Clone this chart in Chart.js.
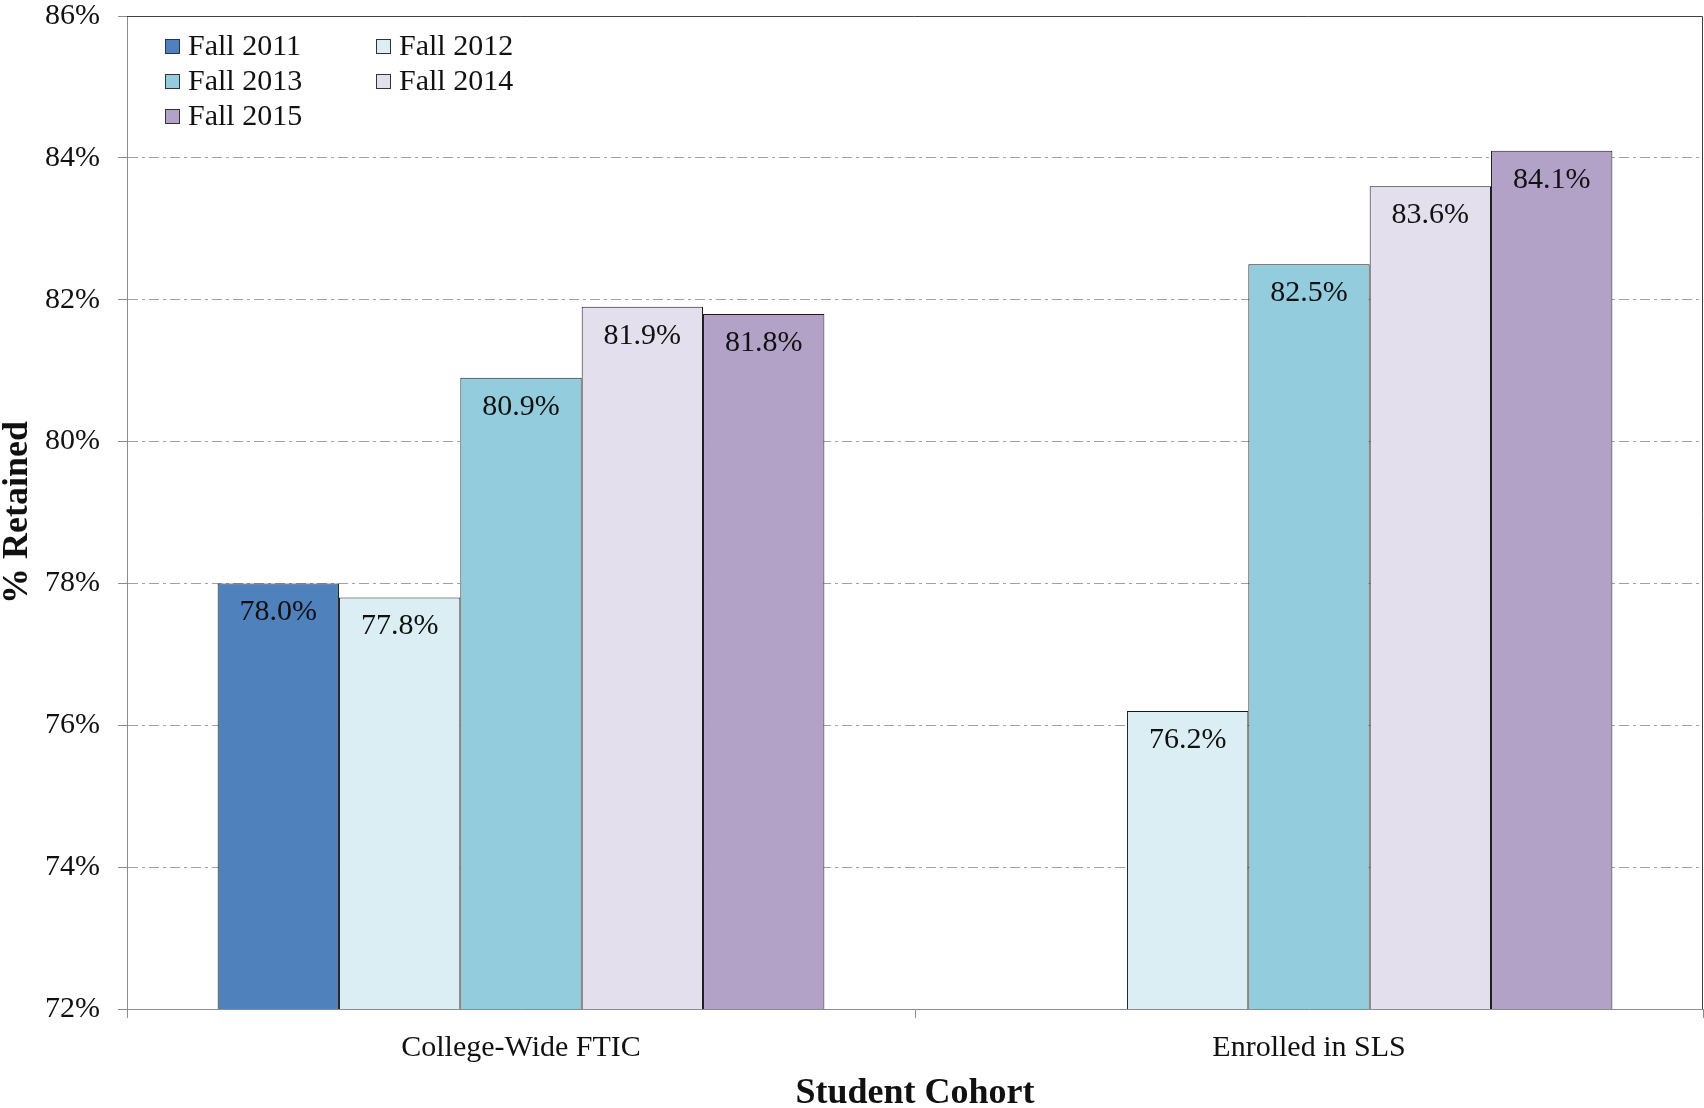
<!DOCTYPE html>
<html>
<head>
    <meta charset="UTF-8">
    <title>% Retained by Student Cohort</title>
    <script src="https://cdn.jsdelivr.net/npm/chart.js"></script>
    <style>
        body { margin: 0; background: #fff; }
    </style>
</head>
<body>
<canvas id="chart" width="1704" height="1108"></canvas>

<script>
    // data
    var cohorts = ['College-Wide FTIC', 'Enrolled in SLS'];
    var terms = ['Fall 2011', 'Fall 2012', 'Fall 2013', 'Fall 2014', 'Fall 2015'];
    var fall2011 = [78.0, null];
    var fall2012 = [77.8, 76.2];
    var fall2013 = [80.9, 82.5];
    var fall2014 = [81.9, 83.6];
    var fall2015 = [81.8, 84.1];
    var yTicks = [72, 74, 76, 78, 80, 82, 84, 86];

    var colors = ['#4F81BD', '#DBEEF4', '#93CDDD', '#E4DFEC', '#B2A2C7'];
    var values = [fall2011, fall2012, fall2013, fall2014, fall2015];
    var serif = '"Liberation Serif", "Times New Roman", serif';

    var datasets = [];
    for (var i = 0; i < terms.length; i++) {
        datasets.push({
            label: terms[i],
            data: values[i],
            backgroundColor: colors[i],
            borderColor: '#1a1a1a',
            borderWidth: 1,
            borderSkipped: 'bottom'
        });
    }

    // value labels just inside the top of each bar
    var barLabels = {
        id: 'barLabels',
        afterDatasetsDraw: function (chart) {
            var ctx = chart.ctx;
            ctx.save();
            ctx.font = '30px ' + serif;
            ctx.fillStyle = '#111';
            ctx.textAlign = 'center';
            ctx.textBaseline = 'middle';
            chart.data.datasets.forEach(function (ds, di) {
                var meta = chart.getDatasetMeta(di);
                meta.data.forEach(function (bar, j) {
                    if (ds.data[j] == null) return;
                    ctx.fillText(ds.data[j].toFixed(1) + '%', bar.x, bar.y + 29);
                });
            });
            ctx.restore();
        }
    };

    // frame on top and right, legend in the upper left of the plot
    var frameAndLegend = {
        id: 'frameAndLegend',
        afterDraw: function (chart) {
            var ctx = chart.ctx;
            var a = chart.chartArea;
            ctx.save();
            ctx.strokeStyle = '#404040';
            ctx.lineWidth = 1;
            ctx.beginPath();
            ctx.moveTo(a.left, a.top + 0.5);
            ctx.lineTo(a.right - 0.5, a.top + 0.5);
            ctx.lineTo(a.right - 0.5, a.bottom);
            ctx.stroke();

            ctx.font = '30px ' + serif;
            ctx.textBaseline = 'middle';
            ctx.textAlign = 'left';
            chart.data.datasets.forEach(function (ds, i) {
                var col = i % 2, row = Math.floor(i / 2);
                var x = a.left + 38 + col * 211;
                var y = a.top + 31 + row * 35;
                ctx.fillStyle = ds.backgroundColor;
                ctx.fillRect(x, y - 8, 15, 15);
                ctx.strokeStyle = '#333';
                ctx.strokeRect(x + 0.5, y - 7.5, 14, 14);
                ctx.fillStyle = '#111';
                ctx.fillText(ds.label, x + 23, y);
            });
            ctx.restore();
        }
    };

    var ctx = document.getElementById('chart').getContext('2d');
    var chart = new Chart(ctx, {
        type: 'bar',
        data: {
            labels: cohorts,
            datasets: datasets
        },
        plugins: [barLabels, frameAndLegend],
        options: {
            responsive: false,
            animation: false,
            layout: { padding: { top: 16, right: 1, left: 0, bottom: 0 } },
            datasets: {
                bar: { categoryPercentage: 0.77, barPercentage: 1.0 }
            },
            plugins: {
                legend: { display: false },
                tooltip: { enabled: false }
            },
            scales: {
                x: {
                    afterFit: function (scale) { scale.height = 99; },
                    grid: {
                        offset: true,
                        drawOnChartArea: false,
                        tickLength: 9,
                        tickColor: '#8c8c8c'
                    },
                    border: { color: '#8c8c8c', width: 1 },
                    ticks: {
                        padding: 12,
                        color: '#111',
                        font: { family: serif, size: 30 }
                    },
                    title: {
                        display: true,
                        text: 'Student Cohort',
                        color: '#111',
                        padding: 0,
                        font: { family: serif, size: 36, weight: 'bold', lineHeight: 0.8 }
                    }
                },
                y: {
                    min: 72,
                    max: 86,
                    afterFit: function (scale) {
                        scale.width = 127;
                        scale.paddingTop = 0;
                    },
                    afterBuildTicks: function (scale) {
                        scale.ticks = yTicks.map(function (v) { return { value: v }; });
                    },
                    grid: {
                        tickLength: 9,
                        tickColor: '#8c8c8c',
                        color: function (c) {
                            var v = c.tick ? c.tick.value : null;
                            return (v === 72 || v === 86) ? 'rgba(0,0,0,0)' : '#a0a0a0';
                        }
                    },
                    border: { color: '#8c8c8c', width: 1, dash: [10, 4, 3, 4] },
                    ticks: {
                        padding: 18,
                        color: '#111',
                        font: { family: serif, size: 30, lineHeight: 1 },
                        callback: function (v) { return v + '%'; }
                    },
                    title: {
                        display: true,
                        text: '% Retained',
                        color: '#111',
                        padding: 0,
                        font: { family: serif, size: 36, weight: 'bold', lineHeight: 1 }
                    }
                }
            }
        }
    });
</script>
</body>
</html>
